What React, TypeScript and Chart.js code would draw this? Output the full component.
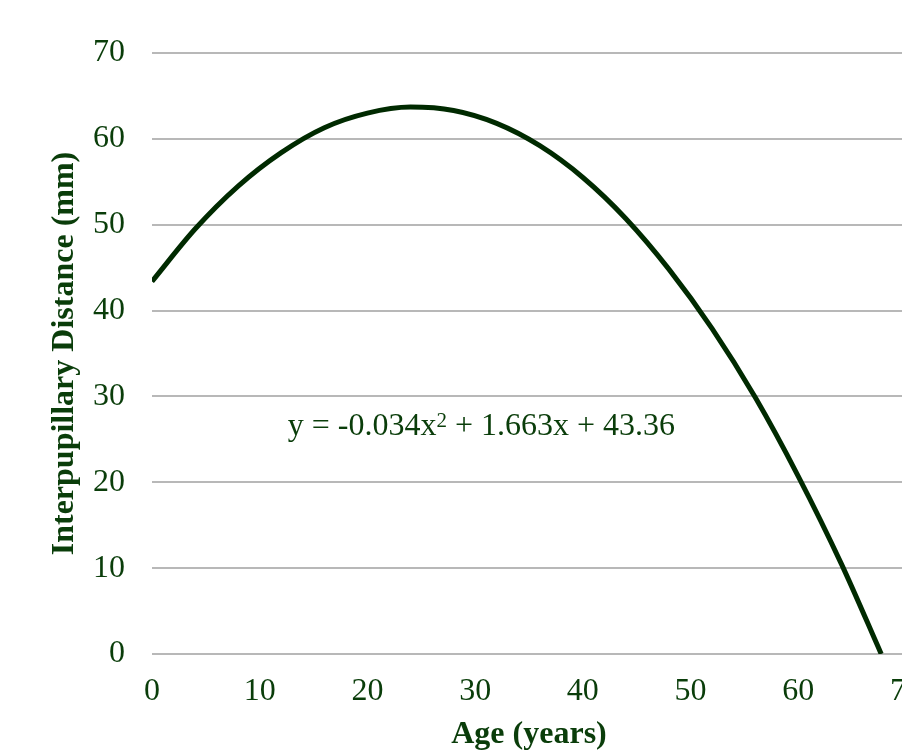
import { useEffect, useRef } from "react";
import { Chart, registerables } from "chart.js";

Chart.register(...registerables);

// Points
const ageYears = [0, 4, 8, 12, 16, 20, 24, 28, 32, 36, 40, 44, 48, 52, 56, 60, 64, 67.7];
const ipdMm = [43.4, 49.5, 54.5, 58.4, 61.3, 63.0, 63.7, 63.3, 61.8, 59.2, 55.5, 50.7, 44.8, 37.9, 29.9, 20.7, 10.5, 0];

const xMin = 0;
const xMax = 70;
const yMin = 0;
const yMax = 70;
const tickStep = 10;

const xTitle = "Age (years)";
const yTitle = "Interpupillary Distance (mm)";
const eqMain = "y = -0.034x";
const eqSup = "2";
const eqRest = " + 1.663x + 43.36";
const eqAnchor = { x: 12.6, y: 25.5 };

const FONT = '"Liberation Serif", "Times New Roman", serif';
const TEXT = "#0a3d0a";
const LINE = "#002a00";
const GRID = "#b8b8b8";

const equationPlugin = {
  id: "equationLabel",
  afterDatasetsDraw(chart: any) {
    const { ctx, scales } = chart;
    const px = scales.x.getPixelForValue(eqAnchor.x);
    const py = scales.y.getPixelForValue(eqAnchor.y);
    ctx.save();
    ctx.fillStyle = TEXT;
    ctx.textBaseline = "alphabetic";
    ctx.textAlign = "left";
    ctx.font = `32px ${FONT}`;
    ctx.fillText(eqMain, px, py);
    let cx = px + ctx.measureText(eqMain).width;
    ctx.font = `21px ${FONT}`;
    ctx.fillText(eqSup, cx, py - 8);
    cx += ctx.measureText(eqSup).width;
    ctx.font = `32px ${FONT}`;
    ctx.fillText(eqRest, cx, py);
    ctx.restore();
  },
};

export default function App() {
  const ref = useRef<HTMLCanvasElement | null>(null);

  useEffect(() => {
    if (!ref.current) return;
    const chart = new Chart(ref.current, {
      type: "scatter",
      data: {
        datasets: [
          {
            data: ageYears.map((a, i) => ({ x: a, y: ipdMm[i] })),
            showLine: true,
            borderColor: LINE,
            borderWidth: 5,
            pointRadius: 0,
            tension: 0.4,
            cubicInterpolationMode: "monotone",
            fill: false,
          },
        ],
      },
      options: {
        animation: false,
        responsive: false,
        devicePixelRatio: 1,
        layout: { padding: { top: 53, right: 54, left: 0, bottom: 0 } },
        plugins: {
          legend: { display: false },
          tooltip: { enabled: false },
        },
        scales: {
          x: {
            type: "linear",
            min: xMin,
            max: xMax,
            grid: { display: false, drawTicks: false },
            border: { display: false },
            ticks: {
              stepSize: tickStep,
              color: TEXT,
              font: { family: FONT, size: 32 },
              padding: 18,
              maxRotation: 0,
            },
            title: {
              display: true,
              text: xTitle,
              color: TEXT,
              font: { family: FONT, size: 32, weight: "bold" },
              padding: { top: 0, bottom: 1 },
            },
            afterFit(scale: any) {
              scale.height = 101;
            },
          },
          y: {
            type: "linear",
            min: yMin,
            max: yMax,
            grid: { color: GRID, lineWidth: 2, drawTicks: false },
            border: { display: false },
            ticks: {
              stepSize: tickStep,
              color: TEXT,
              font: { family: FONT, size: 32 },
              padding: 27,
            },
            title: {
              display: true,
              text: yTitle,
              color: TEXT,
              font: { family: FONT, size: 32, weight: "bold" },
              padding: { top: 46, bottom: 0 },
            },
            afterFit(scale: any) {
              scale.width = 152;
            },
          },
        },
      },
      plugins: [equationPlugin],
    });
    return () => chart.destroy();
  }, []);

  return (
    <div
      style={{
        position: "fixed",
        left: 0,
        top: 0,
        width: 902,
        height: 755,
        overflow: "hidden",
        background: "#ffffff",
      }}
    >
      <canvas ref={ref} width={960} height={755} style={{ display: "block" }} />
    </div>
  );
}
